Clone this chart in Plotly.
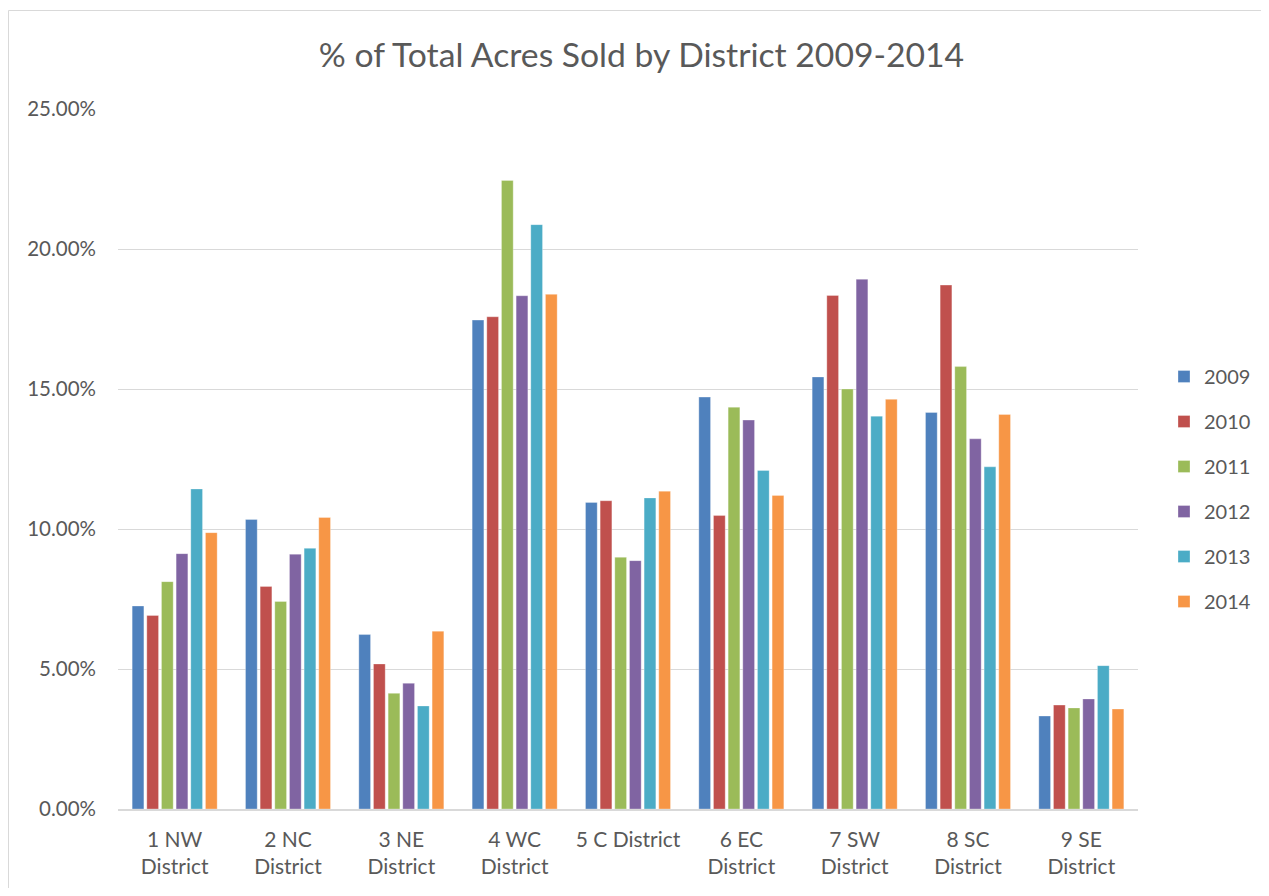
import plotly.graph_objects as go

districts = ["1 NW<br>District", "2 NC<br>District", "3 NE<br>District", "4 WC<br>District",
             "5 C District", "6 EC<br>District", "7 SW<br>District", "8 SC<br>District", "9 SE<br>District"]
years = ["2009", "2010", "2011", "2012", "2013", "2014"]
v2009 = [7.25, 10.34, 6.23, 17.46, 10.95, 14.71, 15.43, 14.16, 3.32]
v2010 = [6.91, 7.95, 5.18, 17.58, 11.01, 10.48, 18.34, 18.71, 3.71]
v2011 = [8.12, 7.41, 4.13, 22.45, 8.99, 14.35, 15.00, 15.80, 3.61]
v2012 = [9.12, 9.10, 4.49, 18.33, 8.87, 13.89, 18.92, 13.22, 3.93]
v2013 = [11.43, 9.31, 3.68, 20.87, 11.11, 12.09, 14.03, 12.22, 5.12]
v2014 = [9.87, 10.41, 6.35, 18.38, 11.35, 11.20, 14.63, 14.09, 3.57]
series = [v2009, v2010, v2011, v2012, v2013, v2014]
colors = ["#4F81BD", "#C0504D", "#9BBB59", "#8064A2", "#4BACC6", "#F79646"]

FONT = "Lato"
fig = go.Figure()
for y, vals, c in zip(years, series, colors):
    fig.add_trace(go.Bar(x=districts, y=vals, name=y, legendgroup=y,
                         marker=dict(color=c, line=dict(color="rgba(255,255,255,0.6)", width=0.5))))

# page body has an 8px margin: figure origin sits at (8, 8) on screen
OFF = 8
W, H = 1269 - 2 * OFF, 896 - 2 * OFF
ml, mr, mt, mb = 118 - OFF, W - (1138 - OFF), 109 - OFF, H - (809 - OFF)
pw, ph = W - ml - mr, H - mt - mb

def px_x(p):  # reference screen px -> paper
    return (p - OFF - ml) / pw

def px_y(p):
    return (H - mb - (p - OFF)) / ph

fig.update_layout(
    width=W, height=H,
    margin=dict(l=ml, r=mr, t=mt, b=mb, autoexpand=False),
    paper_bgcolor="white", plot_bgcolor="white",
    barmode="group", bargap=0.224, bargroupgap=0.2,
    title=dict(text="% of Total Acres Sold by District 2009-2014",
               x=(641.5 - OFF) / W, xanchor="center",
               y=1 - (55 - OFF) / H, yanchor="middle",
               font=dict(family=FONT, size=33.7, color="#595959")),
    font=dict(family=FONT, size=20, color="#595959"),
    xaxis=dict(showgrid=False, showline=True, linecolor="#D9D9D9", linewidth=1.5,
               ticks="", tickfont=dict(family=FONT, size=21, color="#595959"),
               ticklabelstandoff=11),
    yaxis=dict(range=[0, 25], dtick=5, tickformat=".2f", ticksuffix="%",
               showgrid=True, gridcolor="#D9D9D9", gridwidth=1, zeroline=False,
               showline=False, ticks="", ticklabelstandoff=21,
               tickfont=dict(family=FONT, size=20.5, color="#595959")),
    legend=dict(x=px_x(1164), y=px_y(357), xanchor="left", yanchor="top",
                font=dict(family=FONT, size=20, color="#595959"),
                tracegroupgap=16, itemwidth=30, bgcolor="rgba(0,0,0,0)"),
    showlegend=True,
    shapes=[dict(type="rect", xref="paper", yref="paper",
                 x0=px_x(8.5), x1=px_x(1300), y0=px_y(1000), y1=px_y(10.5),
                 line=dict(color="#D9D9D9", width=1), fillcolor="rgba(0,0,0,0)", layer="below")],
)

fig.write_html("out.html")
